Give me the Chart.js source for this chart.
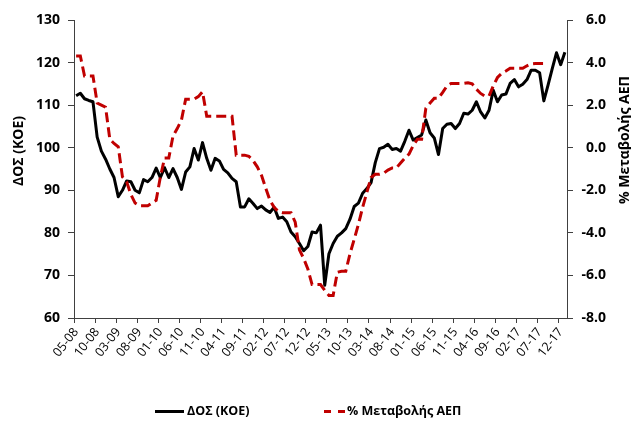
<!DOCTYPE html>
<html><head><meta charset="utf-8">
<script src="https://cdn.jsdelivr.net/npm/chart.js@4.4.1/dist/chart.umd.min.js"></script>
<style>html,body{margin:0;padding:0;background:#fff;}</style>
</head><body>
<canvas id="c" width="631" height="421" style="width:631px;height:421px;display:block"></canvas>
<script>
const months = [
"05-08","06-08","07-08","08-08","09-08","10-08","11-08","12-08",
"01-09","02-09","03-09","04-09","05-09","06-09","07-09","08-09","09-09","10-09","11-09","12-09",
"01-10","02-10","03-10","04-10","05-10","06-10","07-10","08-10","09-10","10-10","11-10","12-10",
"01-11","02-11","03-11","04-11","05-11","06-11","07-11","08-11","09-11","10-11","11-11","12-11",
"01-12","02-12","03-12","04-12","05-12","06-12","07-12","08-12","09-12","10-12","11-12","12-12",
"01-13","02-13","03-13","04-13","05-13","06-13","07-13","08-13","09-13","10-13","11-13","12-13",
"01-14","02-14","03-14","04-14","05-14","06-14","07-14","08-14","09-14","10-14","11-14","12-14",
"01-15","02-15","03-15","04-15","05-15","06-15","07-15","08-15","09-15","10-15","11-15","12-15",
"01-16","02-16","03-16","04-16","05-16","06-16","07-16","08-16","09-16","10-16","11-16","12-16",
"01-17","02-17","03-17","04-17","05-17","06-17","07-17","08-17","09-17","10-17","11-17","12-17",
"01-18"];

const tickLabels = ["05-08","10-08","03-09","08-09","01-10","06-10","11-10","04-11","09-11","02-12",
"07-12","12-12","05-13","10-13","03-14","08-14","01-15","06-15","11-15","04-16","09-16","02-17","07-17","12-17"];

const dosValues = [
112.2,112.8,111.5,111.1,110.8,102.5,99.2,97.3,95.0,93.0,
88.5,90.0,92.2,92.0,90.0,89.4,92.5,92.0,93.0,95.2,
93.0,95.3,93.0,95.1,93.0,90.2,94.3,95.5,99.8,97.1,
101.2,97.5,94.7,97.5,96.9,94.9,94.1,92.8,92.0,86.1,
86.1,88.0,86.9,85.7,86.3,85.4,84.8,86.0,83.4,83.7,
82.6,80.2,79.1,77.5,75.8,76.8,80.2,80.0,81.8,67.7,
75.1,77.5,79.2,80.0,81.0,83.2,86.2,87.0,89.3,90.4,
91.8,96.5,
99.8,100.1,100.8,99.6,99.8,99.2,101.5,104.1,101.8,102.4,
103.0,106.5,103.5,102.3,98.4,104.5,105.5,105.7,104.5,105.7,
108.1,107.9,108.8,110.8,108.4,107.0,108.8,113.5,110.8,112.4,
112.6,115.1,116.0,114.3,114.9,116.0,118.2,118.2,117.6,111.0,
114.7,118.6,122.3,119.5,122.4];

const gdpChange = [
4.31,4.31,3.37,3.37,3.37,2.1,2.0,1.9,0.4,0.2,
0.04,-1.37,-1.6,-2.2,-2.6,-2.73,-2.73,-2.73,-2.6,-2.47,
-1.37,-0.48,-0.48,0.55,0.9,1.3,2.28,2.28,2.28,2.4,
2.63,1.48,1.48,1.48,1.48,1.48,1.48,1.48,-0.35,-0.35,
-0.35,-0.4,-0.6,-0.9,-1.3,-1.9,-2.47,-2.8,-3.0,-3.05,
-3.05,-3.05,-3.5,-4.8,-5.2,-5.7,-6.43,-6.43,-6.43,-6.7,
-6.94,-6.94,-5.85,-5.8,-5.8,-4.98,-4.3,-3.6,-2.8,-2.1,
-1.4,-1.25,-1.25,-1.2,-1.05,-0.95,-0.95,-0.72,-0.5,-0.3,
0.1,0.4,0.4,1.85,2.1,2.32,2.32,2.6,2.9,3.02,
3.02,3.02,3.02,3.05,3.0,2.75,2.55,2.43,2.43,2.9,
3.3,3.49,3.6,3.73,3.73,3.73,3.73,3.85,3.94,3.96,
3.96,3.96,null,null,null,null,null];

const seriesNames = ["ΔΟΣ (ΚΟΕ)", "% Μεταβολής ΑΕΠ"];
const leftTitle = "ΔΟΣ (ΚΟΕ)";
const rightTitle = "% Μεταβολής ΑΕΠ";

const AXIS = '#404040';
const BOLD = 'bold 14px "Open Sans"';

const extras = {
  id: 'extras',
  afterDraw(chart) {
    const ctx = chart.ctx;
    ctx.save();
    ctx.fillStyle = '#000';
    ctx.font = BOLD;
    ctx.textAlign = 'center';
    ctx.textBaseline = 'middle';
    ctx.save(); ctx.translate(19, 151); ctx.rotate(-Math.PI / 2); ctx.fillText(leftTitle, 0, 0); ctx.restore();
    ctx.save(); ctx.translate(625, 140); ctx.rotate(-Math.PI / 2); ctx.fillText(rightTitle, 0, 0); ctx.restore();
    // legend
    const ly = 411.5;
    ctx.font = 'bold 12.5px "Open Sans"';
    ctx.textAlign = 'left';
    ctx.lineWidth = 3;
    ctx.strokeStyle = '#000';
    ctx.setLineDash([]);
    ctx.beginPath(); ctx.moveTo(155, ly); ctx.lineTo(184, ly); ctx.stroke();
    ctx.fillText(seriesNames[0], 187, ly);
    ctx.strokeStyle = '#C00000';
    ctx.setLineDash([7, 7]);
    ctx.beginPath(); ctx.moveTo(324, ly); ctx.lineTo(345, ly); ctx.stroke();
    ctx.setLineDash([]);
    ctx.fillText(seriesNames[1], 347, ly);
    ctx.restore();
  }
};

new Chart(document.getElementById('c'), {
  type: 'line',
  data: {
    labels: months,
    datasets: [
      { label: seriesNames[0], data: dosValues, yAxisID: 'y', borderColor: '#000', backgroundColor: '#000',
        borderWidth: 3, pointRadius: 0, tension: 0, order: 1, borderJoinStyle: 'round' },
      { label: seriesNames[1], data: gdpChange, yAxisID: 'y1', borderColor: '#C00000', backgroundColor: '#C00000',
        borderWidth: 3, borderDash: [10, 5], pointRadius: 0, tension: 0, order: 0, spanGaps: false }
    ]
  },
  options: {
    responsive: false,
    animation: false,
    devicePixelRatio: 1,
    layout: { padding: { top: 20, right: 25, bottom: 0, left: 0 } },
    plugins: { legend: { display: false }, tooltip: { enabled: false } },
    scales: {
      x: {
        type: 'category',
        offset: true,
        grid: { display: true, offset: true, drawOnChartArea: false, drawTicks: true, tickLength: 5,
          color: c => (c.index % 5 === 0 ? AXIS : 'rgba(0,0,0,0)'), lineWidth: 1 },
        border: { display: true, color: AXIS, width: 1 },
        ticks: {
          autoSkip: false, minRotation: 52, maxRotation: 52, padding: 2,
          color: '#000', font: { family: '"Open Sans"', size: 12.5 },
          callback: (v, i) => (tickLabels.includes(months[i]) ? months[i] : '')
        },
        afterFit: s => { s.height = 103; }
      },
      y: {
        position: 'left', min: 60, max: 130,
        grid: { display: true, drawOnChartArea: false, drawTicks: true, tickLength: 6, color: AXIS },
        border: { display: true, color: AXIS, width: 1 },
        ticks: { stepSize: 10, padding: 8, color: '#000', font: { family: '"Open Sans"', size: 14, weight: 'bold' } },
        afterFit: s => { s.width = 74; }
      },
      y1: {
        position: 'right', min: -8, max: 6,
        grid: { display: true, drawOnChartArea: false, drawTicks: true, tickLength: 6, color: AXIS },
        border: { display: true, color: AXIS, width: 1 },
        ticks: { stepSize: 2, padding: 8, crossAlign: 'far', color: '#000',
          font: { family: '"Open Sans"', size: 14, weight: 'bold' },
          callback: v => Number(v).toFixed(1) },
        afterFit: s => { s.width = 39; }
      }
    }
  },
  plugins: [extras]
});
</script>
</body></html>
